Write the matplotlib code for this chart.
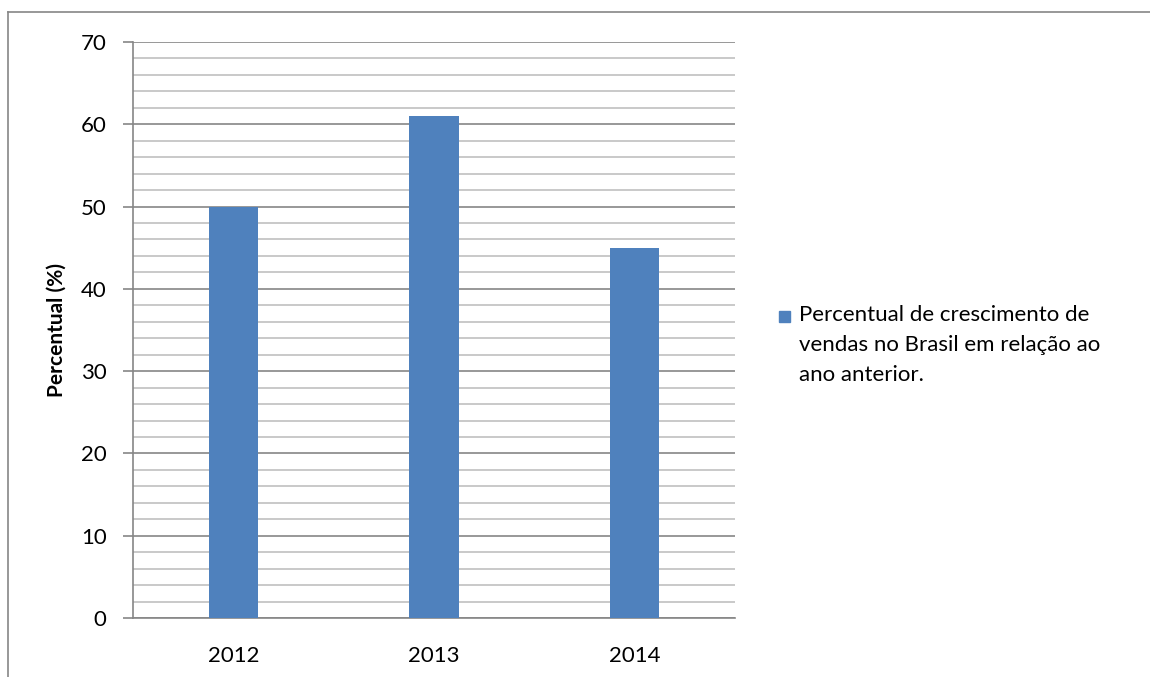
import numpy as np
import matplotlib.pyplot as plt
from matplotlib.lines import Line2D

# data
anos = ['2012', '2013', '2014']
percentual = [50, 61, 45]
legenda = 'Percentual de crescimento de\nvendas no Brasil em relação ao\nano anterior.'

plt.rcParams['font.family'] = ['Lato', 'DejaVu Sans']

fig = plt.figure(figsize=(11.5, 6.77), dpi=100)
W, H = 1150, 677
# plot area in pixels: x 133..735, y 42..618
ax = fig.add_axes([133 / W, 1 - 618 / H, (735 - 133) / W, (618 - 42) / H])

x = np.arange(len(anos))
ax.bar(x, percentual, width=0.245, color='#4F81BD', zorder=3)
ax.set_xlim(-0.5, len(anos) - 0.5)
ax.set_ylim(0, 70)
ax.set_xticks(x)
ax.set_xticklabels(anos)
ax.set_yticks(np.arange(0, 71, 10))
ax.set_yticks(np.arange(0, 71, 2), minor=True)

ax.grid(axis='y', which='major', color='#868686', linewidth=1.2, zorder=0)
ax.grid(axis='y', which='minor', color='#c0c0c0', linewidth=1.2, zorder=0)

for s in ['top', 'right']:
    ax.spines[s].set_visible(False)
ax.spines['left'].set_color('#868686')
ax.spines['bottom'].set_color('#868686')
ax.spines['left'].set_linewidth(1.2)
ax.spines['bottom'].set_linewidth(1.2)

ax.tick_params(axis='y', which='major', length=7, color='#868686', width=1.2, labelsize=16, pad=12)
ax.tick_params(axis='y', which='minor', length=0)
ax.tick_params(axis='x', length=0, labelsize=16, pad=20)

ax.set_ylabel('Percentual (%)', fontsize=15, fontweight='bold', labelpad=10)

# legend
fig.patches.append(plt.Rectangle((779 / W, 1 - 322 / H), 11 / W, 11 / H,
                                 transform=fig.transFigure, color='#4F81BD'))
fig.text(799 / W, 1 - 305 / H, legenda, fontsize=16, va='top', ha='left',
         linespacing=1.62)

# chart border (left and top visible)
fig.add_artist(Line2D([8 / W, 8 / W], [0, 1 - 12 / H], transform=fig.transFigure,
                      color='#868686', linewidth=1.2))
fig.add_artist(Line2D([8 / W, 1], [1 - 12 / H, 1 - 12 / H], transform=fig.transFigure,
                      color='#868686', linewidth=1.2))

fig.savefig('out.png', dpi=100)
